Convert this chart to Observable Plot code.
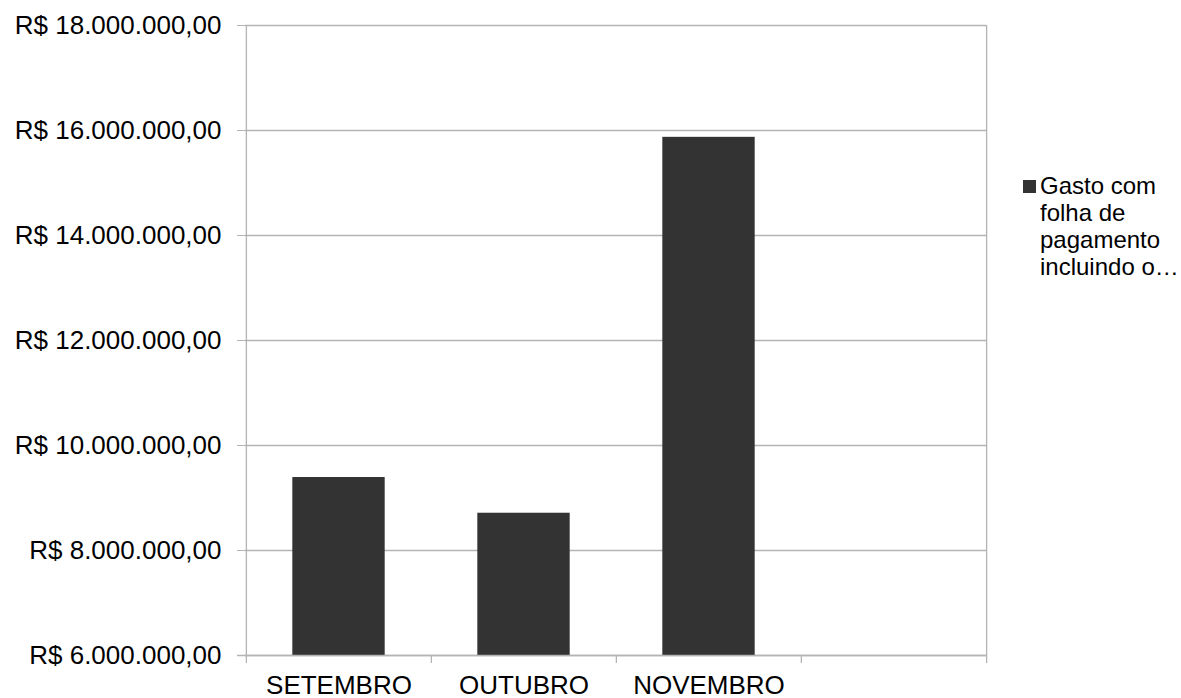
<!DOCTYPE html>
<html>
<head>
<meta charset="utf-8">
<script src="https://cdn.jsdelivr.net/npm/d3@7"></script>
<script src="https://cdn.jsdelivr.net/npm/@observablehq/plot@0.6"></script>
<style>
  html, body { margin: 0; padding: 0; background: #fff; }
  #wrap { position: relative; width: 1181px; height: 698px; font-family: "Liberation Sans", Arial, sans-serif; }
  #legend { position: absolute; left: 1023px; top: 172px; font-size: 24px; line-height: 27px; color: #000; }
  #legend .sw { position: absolute; left: 0; top: 8px; width: 13px; height: 13px; background: #333333; }
  #legend .tx { margin-left: 17px; }
</style>
</head>
<body>
<div id="wrap"><div id="legend"><div class="sw"></div><div class="tx">Gasto com<br>folha de<br>pagamento<br>incluindo o…</div></div></div>
<script>
const categories = ["SETEMBRO", "OUTUBRO", "NOVEMBRO", ""];
const values = [9390000, 8710000, 15870000, null];
const yTicks = [6000000, 8000000, 10000000, 12000000, 14000000, 16000000, 18000000];
const seriesName = "Gasto com folha de pagamento incluindo o…";

const data = categories.map((c, i) => ({month: c, value: values[i]}));
const W = 1181, H = 698, mL = 245, mR = 195, mT = 25, mB = 43;
const bw = (W - mL - mR) / categories.length;
const grid = "#b4b4b4";
const br = d3.formatLocale({decimal: ",", thousands: ".", grouping: [3], currency: ["R$ ", ""]});
const fmt = br.format("$,.2f");
const yMin = yTicks[0], yMax = yTicks[yTicks.length - 1];

const chart = Plot.plot({
  width: W, height: H,
  marginLeft: mL, marginRight: mR, marginTop: mT, marginBottom: mB,
  style: {fontFamily: "'Liberation Sans', Arial, sans-serif", fontSize: "20px", color: "#000", background: "#fff", overflow: "visible"},
  x: {type: "band", domain: categories, padding: 0},
  y: {domain: [yMin, yMax]},
  marks: [
    Plot.ruleY(yTicks, {stroke: grid, strokeWidth: 1.3}),
    Plot.ruleX([categories[categories.length - 1]], {dx: bw / 2, stroke: grid, strokeWidth: 1.3, y1: yMin, y2: yMax}),
    Plot.ruleX([categories[categories.length - 1]], {dx: bw / 2, stroke: grid, strokeWidth: 1.3, y1: yMin, y2: yMin, insetBottom: -8}),
    Plot.ruleX(categories, {dx: -bw / 2, stroke: grid, strokeWidth: 1.3, y1: yMin, y2: yMin, insetBottom: -8}),
    Plot.ruleX([categories[0]], {dx: -bw / 2, stroke: grid, strokeWidth: 1.3, y1: yMin, y2: yMax}),
    Plot.barY(data.filter(d => d.value != null), {x: "month", y1: yMin, y2: "value", fill: "#333333", insetLeft: bw / 4, insetRight: bw / 4}),
    Plot.axisY({ticks: yTicks, tickFormat: fmt, tickSize: 8, tickPadding: 16, stroke: grid, fontSize: 26, label: null}),
    Plot.axisX({tickSize: 0, tickPadding: 20, fontSize: 26, label: null}),
    Plot.ruleY([yMin], {stroke: grid, strokeWidth: 1.3, insetLeft: -8})
  ]
});
document.getElementById("wrap").prepend(chart);
chart.style.position = "absolute"; chart.style.left = "0"; chart.style.top = "0";
</script>
</body>
</html>
